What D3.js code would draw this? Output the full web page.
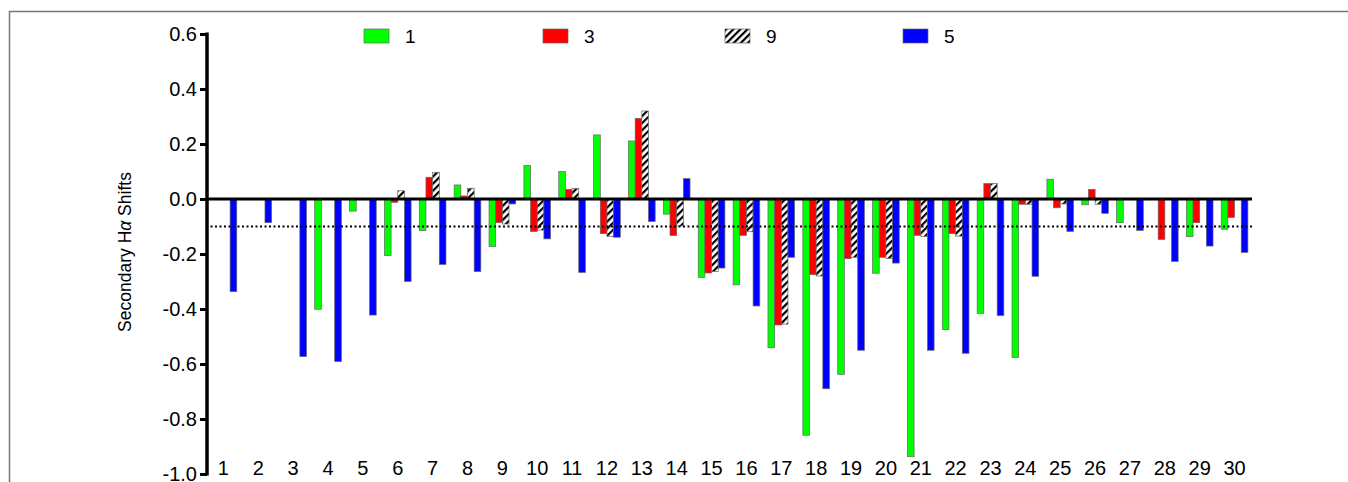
<!DOCTYPE html>
<html>
<head>
<meta charset="utf-8">
<script src="https://cdn.jsdelivr.net/npm/d3@7"></script>
<style>
  body { margin: 0; background: #fff; }
  svg { display: block; font-family: "Liberation Sans", Arial, sans-serif; }
</style>
</head>
<body>
<svg width="1348" height="482"></svg>
<script>
const categories = d3.range(1, 31).map(String);
const seriesNames = ["1", "3", "9", "5"];

// secondary shifts per residue, null = not measured
const s1 = [null, null, null, -0.401, -0.044, -0.206, -0.115, 0.051, -0.173, 0.122,
            0.100, 0.233, 0.211, -0.055, -0.285, -0.312, -0.541, -0.859, -0.638, -0.270,
            -0.937, -0.475, -0.416, -0.576, 0.072, -0.021, -0.086, null, -0.137, -0.110];
const s3 = [null, null, null, null, null, -0.012, 0.079, 0.011, -0.086, -0.118,
            0.035, -0.126, 0.293, -0.133, -0.269, -0.132, -0.458, -0.275, -0.217, -0.212,
            -0.132, -0.126, 0.056, -0.019, -0.032, 0.035, null, -0.147, -0.086, -0.067];
const s9 = [null, null, null, null, null, 0.030, 0.097, 0.039, -0.091, -0.113,
            0.038, -0.136, 0.320, -0.098, -0.264, -0.119, -0.455, -0.280, -0.212, -0.216,
            -0.136, -0.135, 0.056, -0.019, -0.018, -0.019, null, null, null, null];
const s5 = [-0.337, -0.086, -0.573, -0.591, -0.422, -0.300, -0.238, -0.264, -0.018, -0.145,
            -0.267, -0.139, -0.082, 0.074, -0.251, -0.389, -0.212, -0.690, -0.550, -0.233,
            -0.550, -0.561, -0.424, -0.281, -0.118, -0.052, -0.114, -0.227, -0.171, -0.194];
const yTicks = [-1.0, -0.8, -0.6, -0.4, -0.2, 0.0, 0.2, 0.4, 0.6];
const cutoff = -0.1;

const seriesValues = [s1, s3, s9, s5];
const fills = { "1": "#00ff00", "3": "#ff0000", "9": "url(#hatch)", "5": "#0000ff" };

const svg = d3.select("svg");

// hatch pattern for series 9
const defs = svg.append("defs");
const pat = defs.append("pattern").attr("id", "hatch")
    .attr("patternUnits", "userSpaceOnUse").attr("width", 5).attr("height", 5)
    .attr("patternTransform", "rotate(45)");
pat.append("rect").attr("width", 5).attr("height", 5).attr("fill", "#fff");
pat.append("rect").attr("width", 2.2).attr("height", 5).attr("fill", "#000");

// frame line
svg.append("path").attr("d", "M9.5,482 V11.5 H1348")
    .attr("fill", "none").attr("stroke", "#777").attr("stroke-width", 1.5);

const x = d3.scaleBand().domain(categories).range([206, 1252])
    .paddingInner(0.235).paddingOuter(0.1175);
const x1 = d3.scaleBand().domain(seriesNames).range([0, x.bandwidth()]);
const y = d3.scaleLinear().domain([-1, 0.6]).range([474, 34]);

// bars
const rows = [];
seriesNames.forEach((s, si) => {
  seriesValues[si].forEach((v, i) => {
    if (v !== null) rows.push({ cat: categories[i], s, v });
  });
});

svg.append("g").selectAll("rect").data(rows).join("rect")
  .attr("x", d => x(d.cat) + x1(d.s))
  .attr("width", x1.bandwidth())
  .attr("y", d => y(Math.max(0, d.v)))
  .attr("height", d => Math.abs(y(d.v) - y(0)))
  .attr("fill", d => fills[d.s])
  .attr("stroke", "#666").attr("stroke-width", 0.7);

// dotted cutoff line
svg.append("line")
  .attr("x1", x.range()[0]).attr("x2", x.range()[1])
  .attr("y1", y(cutoff)).attr("y2", y(cutoff))
  .attr("stroke", "#000").attr("stroke-width", 2)
  .attr("stroke-dasharray", "2,2.5");

// zero line
svg.append("line")
  .attr("x1", x.range()[0]).attr("x2", x.range()[1])
  .attr("y1", y(0)).attr("y2", y(0))
  .attr("stroke", "#000").attr("stroke-width", 3);

// y axis
const yAxis = svg.append("g").attr("transform", "translate(207,0)")
  .call(d3.axisLeft(y).tickValues(yTicks).tickFormat(d => d.toFixed(1))
    .tickSize(7).tickSizeOuter(0).tickPadding(3));
yAxis.select(".domain").attr("stroke-width", 3.5).attr("d", `M0,${y(0.6) - 1.5}V${y(-1) + 1.5}`);
yAxis.selectAll(".tick line").attr("stroke-width", 3);
yAxis.selectAll(".tick text").attr("font-size", 20).attr("fill", "#000")
  .attr("font-family", "Liberation Sans, Arial, sans-serif");

// x labels
svg.append("g").selectAll("text").data(categories).join("text")
  .attr("x", d => x(d) + x.bandwidth() / 2)
  .attr("y", 475)
  .attr("text-anchor", "middle")
  .attr("font-size", 20)
  .text(d => d);

// y title
const yt = svg.append("text")
  .attr("transform", "translate(131,252) rotate(-90)")
  .attr("text-anchor", "middle")
  .attr("font-size", 17.5);
yt.append("tspan").text("Secondary H");
yt.append("tspan").attr("font-style", "italic").text("α");
yt.append("tspan").text(" Shifts");

// legend
const legendX = [364, 543, 725, 903];
const legend = svg.append("g").selectAll("g").data(seriesNames).join("g")
  .attr("transform", (d, i) => `translate(${legendX[i]},29)`);
legend.append("rect").attr("width", 25).attr("height", 14)
  .attr("fill", d => fills[d]).attr("stroke", "#666").attr("stroke-width", 0.7);
legend.append("text").attr("x", 41).attr("y", 14)
  .attr("font-size", 19).text(d => d);
</script>
</body>
</html>
